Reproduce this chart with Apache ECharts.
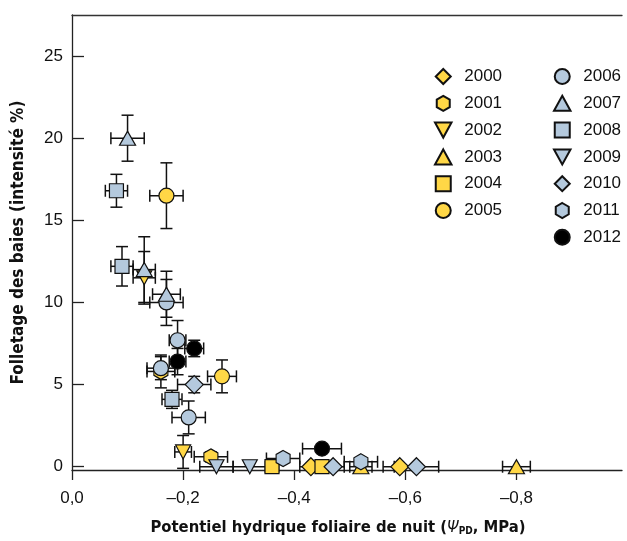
<!DOCTYPE html>
<html>
<head>
<meta charset="utf-8">
<script src="https://cdn.jsdelivr.net/npm/echarts@6/dist/echarts.min.js"></script>
<style>
  html, body { margin: 0; padding: 0; background: #fff; }
  #chart { width: 627px; height: 541px; }
</style>
</head>
<body>
<div id="chart"></div>
<script type="text/javascript">

// points per year: [psiPD (MPa), folletage %, xerr, yerr]
var years = ['2000','2001','2002','2003','2004','2005','2006','2007','2008','2009','2010','2011','2012'];

var y2000 = [[-0.43, 0, 0.02, 0], [-0.59, 0, 0.03, 0]];
var y2001 = [[-0.16, 5.8, 0.025, 1.0], [-0.25, 0.6, 0.03, 0.3]];
var y2002 = [[-0.13, 11.5, 0.02, 1.6], [-0.20, 0.9, 0.015, 1.0]];
var y2003 = [[-0.52, 0, 0.02, 0], [-0.80, 0, 0.025, 0]];
var y2004 = [[-0.36, 0, 0.012, 0], [-0.45, 0, 0.02, 0]];
var y2005 = [[-0.17, 16.5, 0.03, 2.0], [-0.27, 5.5, 0.026, 1.0]];
var y2006 = [[-0.17, 10.0, 0.03, 1.4], [-0.19, 7.7, 0.015, 1.2], [-0.16, 6.0, 0.025, 0.7], [-0.21, 3.0, 0.03, 1.0]];
var y2007 = [[-0.10, 20.0, 0.03, 1.4], [-0.13, 12.0, 0.02, 2.0], [-0.17, 10.5, 0.025, 1.4]];
var y2008 = [[-0.08, 16.8, 0.02, 1.0], [-0.09, 12.2, 0.02, 1.2], [-0.18, 4.1, 0.018, 0.55]];
var y2009 = [[-0.26, 0, 0.03, 0], [-0.32, 0, 0.03, 0]];
var y2010 = [[-0.22, 5.0, 0.03, 0.5], [-0.47, 0, 0.02, 0], [-0.62, 0, 0.04, 0]];
var y2011 = [[-0.38, 0.5, 0.03, 0], [-0.52, 0.3, 0.03, 0]];
var y2012 = [[-0.22, 7.2, 0.017, 0.5], [-0.19, 6.4, 0.015, 0.8], [-0.45, 1.1, 0.035, 0]];

var xTicks = [0, -0.2, -0.4, -0.6, -0.8];
var yTicks = [0, 5, 10, 15, 20, 25];

var yearData = [y2000, y2001, y2002, y2003, y2004, y2005, y2006, y2007, y2008, y2009, y2010, y2011, y2012];

var YEL = '#FFD746';
var BLU = '#B4C9DD';
var HEX = 'path://M0,-1 L0.866,-0.5 L0.866,0.5 L0,1 L-0.866,0.5 L-0.866,-0.5 Z';
var DIA = 'path://M0,-1 L1,0 L0,1 L-1,0 Z';
var TRI_UP = 'path://M0,-1 L1.1,1 L-1.1,1 Z';
var TRI_DOWN = 'path://M-1.1,-1 L1.1,-1 L0,1 Z';
var SQR = 'path://M-1,-1 L1,-1 L1,1 L-1,1 Z';

var styles = [
    {symbol: DIA, size: [18, 18], color: YEL},
    {symbol: HEX, size: [14, 16], color: YEL},
    {symbol: TRI_DOWN, size: [15, 14], color: YEL},
    {symbol: TRI_UP, size: [16, 14], color: YEL},
    {symbol: SQR, size: [14, 14], color: YEL},
    {symbol: 'circle', size: [15, 15], color: YEL},
    {symbol: 'circle', size: [15, 15], color: BLU},
    {symbol: TRI_UP, size: [16, 14], color: BLU},
    {symbol: SQR, size: [14, 14], color: BLU},
    {symbol: TRI_DOWN, size: [15, 14], color: BLU},
    {symbol: DIA, size: [18, 18], color: BLU},
    {symbol: HEX, size: [14, 16], color: BLU},
    {symbol: 'circle', size: [15, 15], color: '#000'}
];

var FONT = '"Liberation Sans", Arial, sans-serif';
var FONT_N = '"Liberation Sans Narrow", "DejaVu Sans Condensed", "Liberation Sans", sans-serif';

// all error bars in one custom series
var errData = [];
yearData.forEach(function (arr) {
    arr.forEach(function (p) { errData.push(p); });
});

var CAP = 6;
function renderErr(params, api) {
    var x = api.value(0), y = api.value(1), ex = api.value(2), ey = api.value(3);
    var c = api.coord([x, y]);
    var kids = [];
    var st = {stroke: '#111', lineWidth: 1.5};
    if (ex > 0) {
        var l = api.coord([x - ex, y]), r = api.coord([x + ex, y]);
        kids.push({type: 'line', shape: {x1: l[0], y1: c[1], x2: r[0], y2: c[1]}, style: st});
        kids.push({type: 'line', shape: {x1: l[0], y1: c[1] - CAP, x2: l[0], y2: c[1] + CAP}, style: st});
        kids.push({type: 'line', shape: {x1: r[0], y1: c[1] - CAP, x2: r[0], y2: c[1] + CAP}, style: st});
    }
    if (ey > 0) {
        var t = api.coord([x, y + ey]), b = api.coord([x, y - ey]);
        kids.push({type: 'line', shape: {x1: c[0], y1: t[1], x2: c[0], y2: b[1]}, style: st});
        kids.push({type: 'line', shape: {x1: c[0] - CAP, y1: t[1], x2: c[0] + CAP, y2: t[1]}, style: st});
        kids.push({type: 'line', shape: {x1: c[0] - CAP, y1: b[1], x2: c[0] + CAP, y2: b[1]}, style: st});
    }
    return {type: 'group', children: kids};
}

var series = [{
    name: 'err',
    type: 'custom',
    renderItem: renderErr,
    data: errData,
    z: 1,
    silent: true
}];

years.forEach(function (yr, i) {
    series.push({
        name: yr,
        type: 'scatter',
        symbol: styles[i].symbol,
        symbolSize: styles[i].size,
        itemStyle: {color: styles[i].color, borderColor: '#111', borderWidth: 1.2, opacity: 1},
        data: yearData[i].map(function (p) { return [p[0], p[1]]; }),
        z: 2 + i
    });
});

var chart = echarts.init(document.getElementById('chart'));

var legendBase = {
    orient: 'vertical',
    itemWidth: 32,
    itemHeight: 15,
    itemGap: 9.8,
    top: 63,
    textStyle: {fontFamily: FONT, fontSize: 17, color: '#111'}
};

var option = {
    animation: false,
    backgroundColor: '#fff',
    grid: {left: 72, right: 5, top: 15, bottom: 68},
    legend: [
        Object.assign({left: 429, data: years.slice(0, 6)}, legendBase),
        Object.assign({left: 548, data: years.slice(6)}, legendBase)
    ],
    xAxis: [{
        type: 'value',
        min: -0.99,
        max: 0,
        inverse: true,
        axisLine: {show: true, onZero: false, lineStyle: {color: '#222', width: 1.3}},
        axisTick: {show: true, inside: false, length: 10, customValues: xTicks, lineStyle: {color: '#222', width: 1.3}},
        axisLabel: {
            customValues: xTicks,
            margin: 20,
            fontFamily: FONT,
            fontSize: 17,
            color: '#111',
            formatter: function (v) {
                if (v === 0) return '0,0';
                return '\u2013' + Math.abs(v).toFixed(1).replace('.', ',');
            }
        },
        splitLine: {show: false},
        name: '{a|Potentiel hydrique foliaire de nuit (}{i|\u03A8}{s|PD}{a|, MPa)}',
        nameLocation: 'middle',
        nameGap: 49,
        nameTextStyle: {
            padding: [0, 18, 0, 0],
            rich: {
                a: {fontFamily: FONT_N, fontSize: 16.5, fontWeight: 'bold', color: '#111'},
                i: {fontFamily: FONT_N, fontSize: 16.5, fontStyle: 'italic', color: '#111'},
                s: {fontFamily: FONT_N, fontSize: 10, fontWeight: 'bold', color: '#111', verticalAlign: 'bottom', padding: [6, 0, 0, 0]}
            }
        }
    }, {
        type: 'value',
        position: 'top',
        min: -0.99,
        max: 0,
        inverse: true,
        axisLine: {show: true, onZero: false, lineStyle: {color: '#333', width: 1.3}},
        axisTick: {show: false},
        axisLabel: {show: false},
        splitLine: {show: false}
    }],
    yAxis: {
        type: 'value',
        min: -0.2,
        max: 27.5,
        axisLine: {show: true, onZero: false, lineStyle: {color: '#222', width: 1.3}},
        axisTick: {show: true, inside: true, length: 12, customValues: yTicks, lineStyle: {color: '#222', width: 1.3}},
        axisLabel: {customValues: yTicks, margin: 9, fontFamily: FONT, fontSize: 17, color: '#111'},
        splitLine: {show: false},
        name: 'Folletage des baies (intensité %)',
        nameLocation: 'middle',
        nameGap: 45,
        nameTextStyle: {fontFamily: FONT_N, fontSize: 17, fontWeight: 'bold', color: '#111'}
    },
    series: series
};

chart.setOption(option);

</script>
</body>
</html>
